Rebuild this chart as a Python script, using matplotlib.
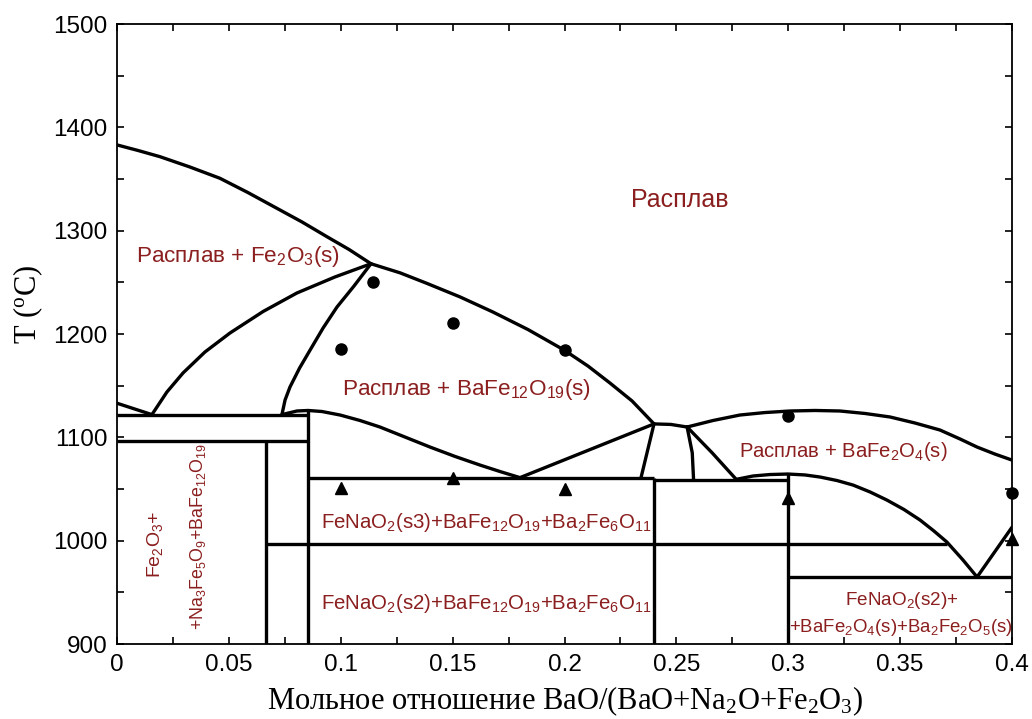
import matplotlib
matplotlib.use("Agg")
import matplotlib.pyplot as plt
from matplotlib.ticker import MultipleLocator, FixedFormatter, FixedLocator

plt.rcParams["font.family"] = ["Liberation Sans", "DejaVu Sans"]
plt.rcParams["mathtext.default"] = "regular"

arquivo_saida = "out.png"
cor_texto = "#8b1e1e"

# linhas do diagrama (x = fracao molar, y = T em C)
liq_fe2o3_x = [0.0, 0.0094, 0.0192, 0.0326, 0.0460, 0.0585, 0.0715, 0.0827, 0.0938, 0.1037, 0.1135]
liq_fe2o3_y = [1383, 1377.6, 1371.6, 1361.6, 1350.7, 1336.9, 1321.6, 1308.4, 1294.2, 1281.8, 1268]

liq_bafe12_x = [0.1135, 0.1265, 0.1385, 0.1533, 0.1680, 0.1837, 0.1998, 0.2105, 0.2203, 0.2302, 0.2400]
liq_bafe12_y = [1268, 1259.2, 1249.0, 1235.9, 1221.3, 1204.3, 1184.5, 1169.0, 1152.6, 1135.2, 1113]

fe2o3_inf_x = [0.1135, 0.0974, 0.0804, 0.0653, 0.0505, 0.0393, 0.0295, 0.0223, 0.0156]
fe2o3_inf_y = [1268, 1255.2, 1239.7, 1221.8, 1201.0, 1182.6, 1162.3, 1143.9, 1122]

bafe12_esq_x = [0.1135, 0.1059, 0.0983, 0.0921, 0.0863, 0.0816, 0.0773, 0.0751, 0.0737]
bafe12_esq_y = [1268, 1246.4, 1226.1, 1205.8, 1184.5, 1167.1, 1148.7, 1136.1, 1122]

canto_esq_x = [0.0, 0.0156]
canto_esq_y = [1133, 1122]

curva_s3_x = [0.0737, 0.0804, 0.0854, 0.0916, 0.0997, 0.1086, 0.1175, 0.1287, 0.1399,
              0.1511, 0.1622, 0.1712, 0.1801]
curva_s3_y = [1122, 1125.5, 1126, 1125, 1121.6, 1116.3, 1110.0, 1100.3, 1090.6,
              1081.5, 1073.2, 1066.9, 1061]

reta_peri_x = [0.1801, 0.2400]
reta_peri_y = [1061, 1113]

trap_esq_x = [0.2400, 0.2342]
trap_esq_y = [1113, 1061]
trap_topo_x = [0.2400, 0.2475, 0.2548]
trap_topo_y = [1113, 1112.5, 1110]
trap_dir_x = [0.2548, 0.2571, 0.2577]
trap_dir_y = [1110, 1085, 1058.5]
trap_diag_x = [0.2548, 0.2660, 0.2771]
trap_diag_y = [1110, 1085, 1058.5]

liq_bafe2_x = [0.2548, 0.2664, 0.2784, 0.2896, 0.3008, 0.3120, 0.3231, 0.3343, 0.3455,
               0.3566, 0.3678, 0.3768, 0.3844, 0.3924, 0.4]
liq_bafe2_y = [1110, 1116.3, 1121.6, 1124.0, 1125.5, 1126.0, 1125.5, 1123.1, 1119.7,
               1113.9, 1107.1, 1098.4, 1090.6, 1083.8, 1078]

curva_bafe2_x = [0.2771, 0.2843, 0.2918, 0.2999, 0.3075, 0.3142, 0.3218, 0.3290, 0.3366,
                 0.3441, 0.3517, 0.3589, 0.3651, 0.3709, 0.3781, 0.3844]
curva_bafe2_y = [1059.5, 1062.6, 1064.0, 1064.5, 1063.6, 1061.6, 1058.2, 1053.8, 1047.1,
                 1039.3, 1030.2, 1020.0, 1009.4, 998.7, 981.3, 964.8]

eut_dir_x = [0.3844, 0.4]
eut_dir_y = [964.8, 1013]

# linhas retas
retas_x = [
    [0.0, 0.0854], [0.0, 0.0854], [0.0854, 0.0854], [0.0664, 0.0664],
    [0.0854, 0.2400], [0.2400, 0.3], [0.2400, 0.2400], [0.3, 0.3],
    [0.0664, 0.3709], [0.3, 0.4],
]
retas_y = [
    [1122, 1122], [1096, 1096], [1126, 900], [1096, 900],
    [1061, 1061], [1058.5, 1058.5], [1061, 900], [1064.5, 900],
    [997, 997], [964.8, 964.8],
]

# pontos experimentais
circ_x = [0.1, 0.1143, 0.15, 0.2, 0.3, 0.4]
circ_y = [1185.5, 1250.5, 1211, 1184.5, 1121, 1046]
tri_x = [0.1, 0.15, 0.2, 0.3, 0.4]
tri_y = [1050.5, 1060.5, 1050, 1041, 1002]

x_ticks = [0, 0.05, 0.1, 0.15, 0.2, 0.25, 0.3, 0.35, 0.4]
x_labels = ["0", "0.05", "0.1", "0.15", "0.2", "0.25", "0.3", "0.35", "0.4"]

rotulos = [
    (0.2515, 1330, "Расплав", 0, 18),
    (0.054, 1275, "Расплав + Fe$_2$O$_3$(s)", 0, 16.2),
    (0.156, 1146, "Расплав + BaFe$_{12}$O$_{19}$(s)", 0, 16.2),
    (0.3245, 1086, "Расплав + BaFe$_2$O$_4$(s)", 0, 14.6),
    (0.165, 1018, "FeNaO$_2$(s3)+BaFe$_{12}$O$_{19}$+Ba$_2$Fe$_6$O$_{11}$", 0, 14.7),
    (0.165, 939, "FeNaO$_2$(s2)+BaFe$_{12}$O$_{19}$+Ba$_2$Fe$_6$O$_{11}$", 0, 14.7),
    (0.3505, 942, "FeNaO$_2$(s2)+", 0, 13.6),
    (0.3505, 916, "+BaFe$_2$O$_4$(s)+Ba$_2$Fe$_2$O$_5$(s)", 0, 13.4),
    (0.0168, 996, "Fe$_2$O$_3$+", 90, 14),
    (0.0362, 1004, "+Na$_3$Fe$_5$O$_9$+BaFe$_{12}$O$_{19}$", 90, 12.8),
]


def gerar_grafico():
    fig = plt.figure(figsize=(10.32, 7.19), dpi=100)
    ax = fig.add_axes([0.1134, 0.1043, 0.8672, 0.8623])

    lw = 2.4
    curvas = [
        (liq_fe2o3_x, liq_fe2o3_y), (liq_bafe12_x, liq_bafe12_y),
        (fe2o3_inf_x, fe2o3_inf_y), (bafe12_esq_x, bafe12_esq_y),
        (canto_esq_x, canto_esq_y), (curva_s3_x, curva_s3_y),
        (reta_peri_x, reta_peri_y), (trap_esq_x, trap_esq_y),
        (trap_topo_x, trap_topo_y), (trap_dir_x, trap_dir_y),
        (trap_diag_x, trap_diag_y), (liq_bafe2_x, liq_bafe2_y),
        (curva_bafe2_x, curva_bafe2_y), (eut_dir_x, eut_dir_y),
    ]
    for cx, cy in curvas:
        ax.plot(cx, cy, color="black", lw=lw, solid_capstyle="round",
                solid_joinstyle="round")
    for rx, ry in zip(retas_x, retas_y):
        ax.plot(rx, ry, color="black", lw=lw, solid_capstyle="butt")

    ax.plot(circ_x, circ_y, "o", color="black", ms=8, clip_on=False, zorder=5)
    ax.plot(tri_x, tri_y, "^", color="black", ms=8, clip_on=False, zorder=5)

    for x, y, txt, rot, fs in rotulos:
        ax.text(x, y, txt, color=cor_texto, fontsize=fs, rotation=rot,
                ha="center", va="center")

    ax.set_xlim(0, 0.4)
    ax.set_ylim(900, 1500)
    ax.xaxis.set_major_locator(FixedLocator(x_ticks))
    ax.xaxis.set_major_formatter(FixedFormatter(x_labels))
    ax.xaxis.set_minor_locator(MultipleLocator(0.025))
    ax.yaxis.set_major_locator(MultipleLocator(100))
    ax.yaxis.set_minor_locator(MultipleLocator(50))
    ax.tick_params(which="both", direction="in", top=True, right=True, width=1.2)
    ax.tick_params(which="major", length=5, labelsize=17.5, pad=7)
    ax.tick_params(which="minor", length=5)
    for sp in ax.spines.values():
        sp.set_linewidth(1.3)

    ax.set_xlabel("Мольное отношение BaO/(BaO+Na$_2$O+Fe$_2$O$_3$)",
                  family=["Liberation Serif", "DejaVu Serif"], fontsize=22, labelpad=6)
    ax.set_ylabel("T ($^o$C)", family=["Liberation Serif", "DejaVu Serif"], fontsize=22)
    ax.yaxis.set_label_coords(-0.080, 0.547)

    fig.savefig(arquivo_saida, dpi=100)
    plt.close(fig)


if __name__ == "__main__":
    gerar_grafico()
